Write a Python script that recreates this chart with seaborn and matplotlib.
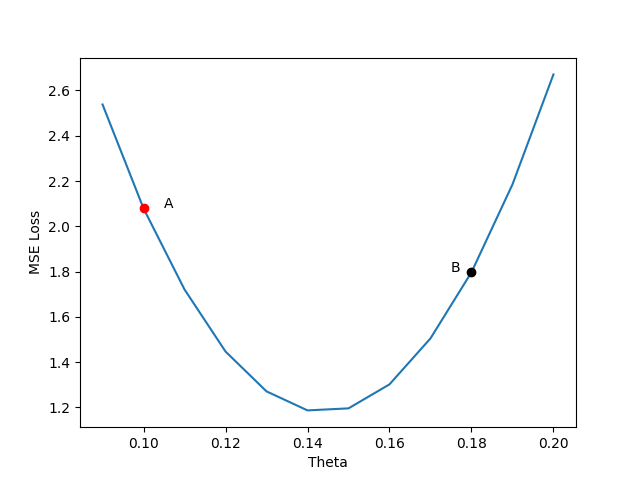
import numpy as np
import matplotlib.pyplot as plt
import seaborn as sns

theta = [0.09, 0.10, 0.11, 0.12, 0.13, 0.14, 0.15, 0.16, 0.17, 0.18, 0.19, 0.20]
mse = [2.538, 2.079, 1.721, 1.447, 1.271, 1.187, 1.196, 1.302, 1.505, 1.797, 2.185, 2.671]

point_a = (0.10, 2.079)
point_b = (0.18, 1.797)

fig, ax = plt.subplots(figsize=(6.4, 4.8), dpi=100)
sns.lineplot(x=theta, y=mse, ax=ax)
ax.plot(*point_a, 'ro')
ax.plot(*point_b, 'ko')
ax.text(0.105, 2.08, 'A')
ax.text(0.175, 1.8, 'B')
ax.set_xlabel('Theta')
ax.set_ylabel('MSE Loss')
fig.savefig('out.png')
